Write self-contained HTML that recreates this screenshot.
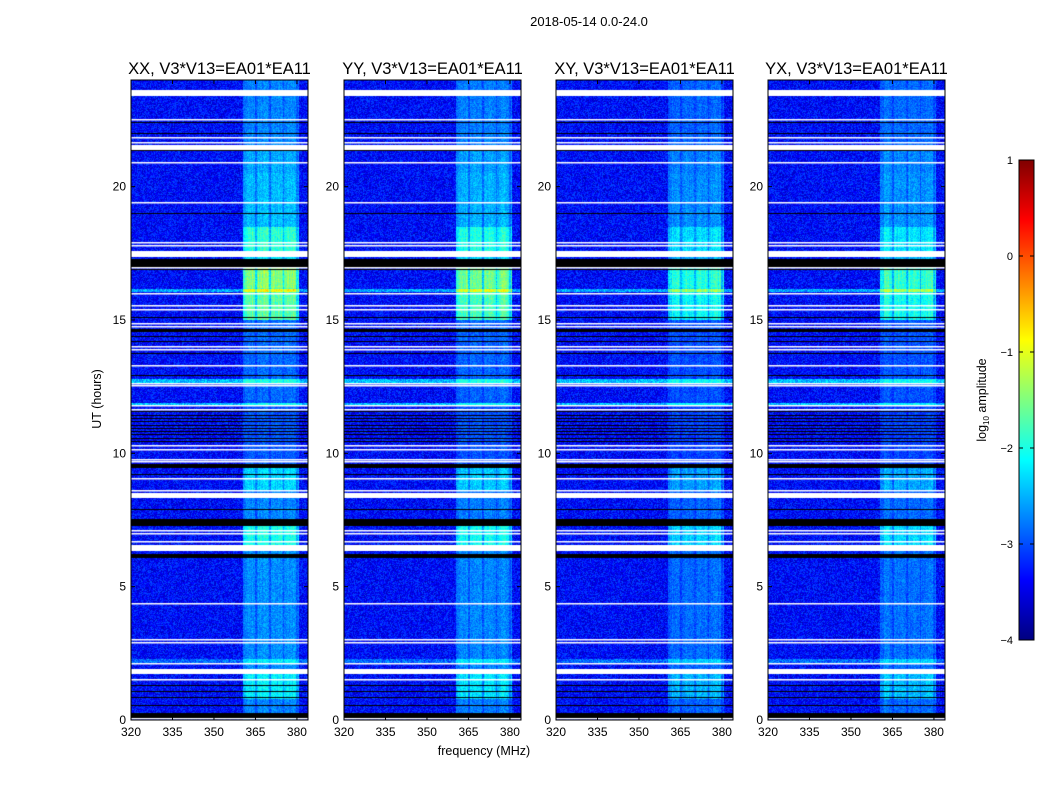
<!DOCTYPE html>
<html><head><meta charset="utf-8">
<style>
body{margin:0;background:#fff;}
#wrap{position:relative;width:1050px;height:800px;overflow:hidden;background:#fff;font-family:"Liberation Sans","DejaVu Sans",sans-serif;}
canvas{position:absolute;}
svg{position:absolute;left:0;top:0;}
text{font-family:"Liberation Sans","DejaVu Sans",sans-serif;}
</style></head>
<body>
<div id="wrap">
<svg id="ov" width="1050" height="800"></svg>
</div>
<script>
// ---- data ----
const panelTitles = ["XX, V3*V13=EA01*EA11","YY, V3*V13=EA01*EA11","XY, V3*V13=EA01*EA11","YX, V3*V13=EA01*EA11"];
const panelScale = [1.0, 0.95, 0.75, 0.8];
const xTicks = [320,335,350,365,380];
const yTicks = [0,5,10,15,20];
const cbTicks = [1,0,-1,-2,-3,-4];
const background = -3.35;
// [startHour, endHour, added log amplitude in RFI band]
const bandSegments = [
 [0,0.8,0.7],[0.8,1.9,1.3],[1.9,6.4,0.75],[6.4,7.3,1.5],[7.3,8.6,0.7],[8.6,9.5,1.15],
 [9.5,12.0,0.45],[12.0,15.0,0.55],[15.0,16.2,1.85],[16.2,17.0,2.1],[17.0,17.4,1.2],
 [17.4,18.5,1.6],[18.5,20.5,1.0],[20.5,21.5,0.9],[21.5,24,0.7]];
// full-width brightened rows [start,end,added]
const fullRows = [[16.05,16.18,0.8],[12.62,12.8,0.9],[11.78,11.9,0.9],[2.12,2.3,0.5]];
// flagged (white) intervals
const whiteFlags = [[23.4,23.62],[22.48,22.53],[21.83,21.88],[21.62,21.66],[21.38,21.58],[20.88,20.93],
 [19.38,19.43],[17.88,17.93],[17.78,17.83],[17.38,17.6],[16.95,17.0],[15.98,16.03],[15.5,15.55],[15.38,15.43],
 [14.83,14.88],[14.73,14.78],[13.98,14.03],[13.88,13.93],[13.28,13.33],[12.58,12.62],[12.52,12.56],
 [11.78,11.83],[11.63,11.68],[10.28,10.33],[10.13,10.18],[9.73,9.78],[9.68,9.71],[9.03,9.08],[8.58,8.63],
 [8.33,8.52],[7.08,7.13],[6.98,7.03],[6.68,6.73],[6.33,6.55],[4.33,4.38],[2.98,3.03],[2.88,2.93],
 [2.08,2.13],[1.73,1.9],[1.48,1.53],[0.03,0.08]];
// dropped (black) intervals
const blackFlags = [[22.38,22.42],[21.98,22.02],[21.33,21.37],[18.98,19.02],[17.0,17.3],[16.88,16.92],
 [15.08,15.12],[14.55,14.65],[14.35,14.4],[14.15,14.2],[13.73,13.77],[12.88,12.92],
 [11.55,11.58],[11.42,11.45],[11.3,11.33],[11.18,11.21],[11.05,11.08],[10.92,10.95],[10.8,10.83],[10.68,10.71],[10.55,10.58],[10.42,10.45],
 [9.45,9.6],[9.2,9.23],[7.88,7.92],[7.28,7.55],[6.08,6.22],[1.26,1.3],[1.03,1.07],[0.84,0.88],[0.54,0.58],[0.08,0.27]];

// ---- layout ----
const panelX = [131,344,556,768], PW=177, PT=80, PB=720;
const fMin=320, fMax=384;
const xs = (f,i)=>panelX[i]+(f-fMin)/(fMax-fMin)*PW;
const ys = h=>PB-h*(PB-PT)/24;
const wrap=document.getElementById('wrap'), svg=document.getElementById('ov');
const NS='http://www.w3.org/2000/svg';
function el(tag,attrs,txt){const e=document.createElementNS(NS,tag);for(const k in attrs)e.setAttribute(k,attrs[k]);if(txt!==undefined)e.textContent=txt;svg.appendChild(e);return e;}
function jet(t){t=Math.max(0,Math.min(1,t));const c=x=>Math.round(255*Math.max(0,Math.min(1,x)));
 return [c(1.5-Math.abs(4*t-3)),c(1.5-Math.abs(4*t-2)),c(1.5-Math.abs(4*t-1))];}
function hash(a,b,c){let h=(a*374761393+b*668265263+c*2147483647)|0;h=(h^(h>>>13))*1274126177|0;h=h^(h>>>16);return ((h>>>0)%10000)/10000;}
function bandProfile(f){
 if(f<360.5||f>380.8)return 0;
 const p=(f-360.5)%5;
 let v=1;
 if(p>4.3)v=0.6;
 if(p<0.6)v*=0.9;
 if(f<362)v*=0.85;
 return v;
}
function bandLevel(h){for(const s of bandSegments)if(h>=s[0]&&h<s[1])return s[2];return 0.6;}
function fullLevel(h){for(const s of fullRows)if(h>=s[0]&&h<s[1])return s[2];return 0;}

panelX.forEach((px,i)=>{
 const cv=document.createElement('canvas');
 cv.width=PW;cv.height=PB-PT;cv.style.left=px+'px';cv.style.top=PT+'px';
 
 
 wrap.insertBefore(cv,svg);
 const ctx=cv.getContext('2d');const img=ctx.createImageData(PW,PB-PT);
 for(let r=0;r<PB-PT;r++){
  const h=(PB-PT-r-0.5)*24/(PB-PT);
  const bl=bandLevel(h)*panelScale[i], fl=fullLevel(h);
  for(let c=0;c<PW;c++){
   const f=fMin+(c+0.5)/PW*(fMax-fMin);
   const n=hash(r,c,i)-0.5, n2=hash(c,7,i)-0.5;
   let v=background+fl;
   const bp=bandProfile(f);
   if(bp>0)v+=bl*bp*(0.9+n2*0.2)+n*0.45;
   else v+=n*0.75;
   const [R,G,B]=jet((v+4)/5);
   const k=(r*PW+c)*4;img.data[k]=R;img.data[k+1]=G;img.data[k+2]=B;img.data[k+3]=255;
  }
 }
 ctx.putImageData(img,0,0);
 ctx.fillStyle='#fff';
 whiteFlags.forEach(w=>{const y1=ys(w[1])-PT,y2=ys(w[0])-PT;ctx.fillRect(0,Math.round(y1),PW,Math.max(1.5,Math.round(y2-y1)));});
 ctx.fillStyle='#000';
 blackFlags.forEach(w=>{const y1=ys(w[1])-PT,y2=ys(w[0])-PT;ctx.fillRect(0,Math.round(y1),PW,Math.max(1,Math.round(y2-y1)));});

 const fr=el('rect',{x:px,y:PT,width:PW,height:PB-PT,fill:'none',stroke:'#000','stroke-width':1});
 
 const t=el('text',{x:px+PW/2,y:74,'text-anchor':'middle','font-size':16.5},panelTitles[i]);
 
 xTicks.forEach(v=>{const x=xs(v,i);
  el('line',{x1:x,x2:x,y1:PB,y2:PB-4,stroke:'#000'});el('line',{x1:x,x2:x,y1:PT,y2:PT+4,stroke:'#000'});
  const tl=el('text',{x:x,y:PB+16,'text-anchor':'middle','font-size':12},String(v));
  });
 yTicks.forEach(v=>{const y=ys(v);
  el('line',{x1:px,x2:px+4,y1:y,y2:y,stroke:'#000'});el('line',{x1:px+PW,x2:px+PW-4,y1:y,y2:y,stroke:'#000'});
  const tl=el('text',{x:px-5,y:y+4,'text-anchor':'end','font-size':12},String(v));
  });
});

let e;
e=el('text',{x:589,y:26,'text-anchor':'middle','font-size':13},'2018-05-14 0.0-24.0');

e=el('text',{x:484,y:755,'text-anchor':'middle','font-size':12.5},'frequency (MHz)');

e=el('text',{x:0,y:0,'text-anchor':'middle','font-size':12.5,transform:'translate(101,399) rotate(-90)'},'UT (hours)');


// colorbar
const cbX=1019,cbW=15,cbT=160,cbB=640,cbMin=-4,cbMax=1;
const cbY=v=>cbB-(v-cbMin)/(cbMax-cbMin)*(cbB-cbT);
for(let y=cbT;y<cbB;y++){const v=cbMin+(cbB-y-0.5)/(cbB-cbT)*(cbMax-cbMin);const [R,G,B]=jet((v-cbMin)/(cbMax-cbMin));
 el('rect',{x:cbX,y:y,width:cbW,height:1.2,fill:`rgb(${R},${G},${B})`});}
e=el('rect',{x:cbX,y:cbT,width:cbW,height:cbB-cbT,fill:'none',stroke:'#000'});

cbTicks.forEach(v=>{const y=cbY(v);
 el('line',{x1:cbX,x2:cbX+4,y1:y,y2:y,stroke:'#000'});el('line',{x1:cbX+cbW,x2:cbX+cbW-4,y1:y,y2:y,stroke:'#000'});
 const tl=el('text',{x:1013,y:y+4,'text-anchor':'end','font-size':11},v<0?'\u2212'+Math.abs(v):String(v));
 });
e=el('text',{x:0,y:0,'text-anchor':'middle','font-size':12.5,transform:'translate(986,400) rotate(-90)'});

e.innerHTML='log<tspan font-size="8" dy="3">10</tspan><tspan dy="-3"> amplitude</tspan>';
</script>
</body></html>
